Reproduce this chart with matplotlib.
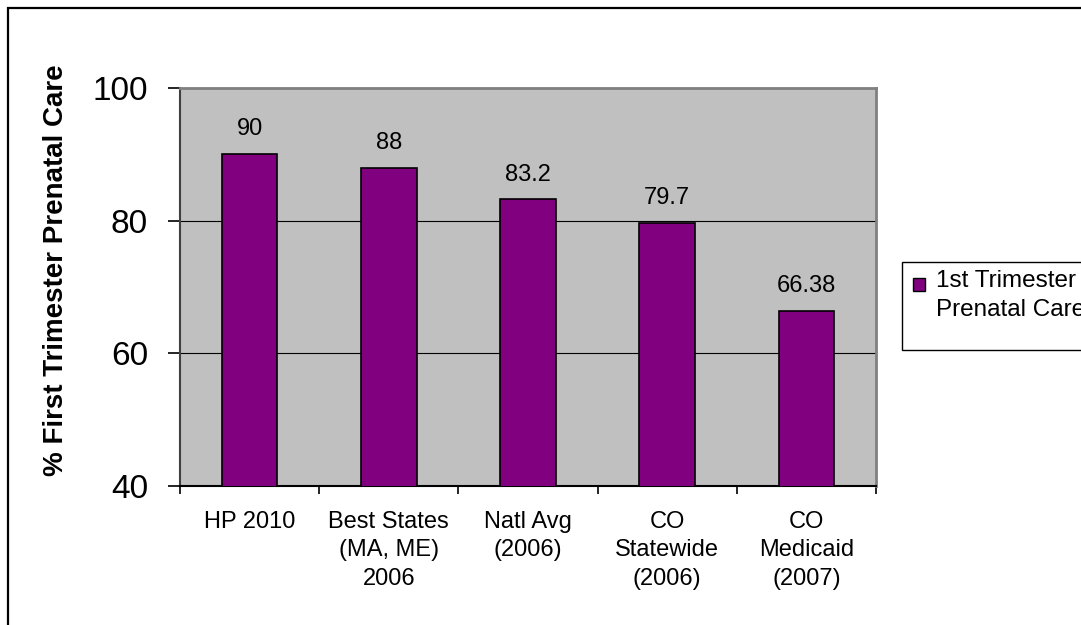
import matplotlib.pyplot as plt
from matplotlib.patches import Rectangle
import numpy as np

# --- data ---
categories = ['HP 2010', 'Best States\n(MA, ME)\n2006', 'Natl Avg\n(2006)',
              'CO\nStatewide\n(2006)', 'CO\nMedicaid\n(2007)']
values = [90, 88, 83.2, 79.7, 66.38]
value_labels = ['90', '88', '83.2', '79.7', '66.38']
series_name = '1st Trimester\nPrenatal Care'
y_ticks = [40, 60, 80, 100]

bar_color = '#800080'
plot_bg = '#C0C0C0'

plt.rcParams['font.family'] = ['Liberation Sans', 'DejaVu Sans']

fig = plt.figure(figsize=(10.81, 6.25), dpi=100)
W, H = 1081, 625

# axes placed in pixel terms
ax = fig.add_axes([180 / W, 1 - 486 / H, 696 / W, 398 / H])
ax.set_facecolor(plot_bg)

x = np.arange(len(categories))
bars = ax.bar(x, values, width=0.4, color=bar_color, edgecolor='black',
              linewidth=1.2, zorder=3)
ax.bar_label(bars, labels=value_labels, padding=10, fontsize=17)

ax.set_xlim(-0.5, len(categories) - 0.5)
ax.set_ylim(40, 100)
ax.set_yticks(y_ticks)
ax.yaxis.grid(True, color='black', linewidth=0.8, zorder=1)
ax.set_axisbelow(True)

# x labels at centres, tick marks at category boundaries
ax.set_xticks(x)
ax.set_xticklabels(categories, fontsize=17, linespacing=1.38)
ax.tick_params(axis='x', which='major', length=0, pad=18)
ax.set_xticks(np.arange(len(categories) + 1) - 0.5, minor=True)
ax.tick_params(axis='x', which='minor', length=6, width=1.2, color='black')
ax.tick_params(axis='y', length=9, width=1.2, labelsize=24, pad=14)

for side in ['top', 'right']:
    ax.spines[side].set_color('#808080')
    ax.spines[side].set_linewidth(2)
ax.spines['left'].set_color('#404040')
ax.spines['left'].set_linewidth(1.5)
ax.spines['bottom'].set_color('black')
ax.spines['bottom'].set_linewidth(1.5)

ax.set_ylabel('% First Trimester Prenatal Care', fontsize=20, fontweight='bold')
ax.yaxis.set_label_coords(-0.159, 0.543)

# legend box (Excel-style, swatch next to the first line)
fig.patches.append(Rectangle((902 / W, 1 - 350 / H), 300 / W, 88 / H,
                             transform=fig.transFigure, facecolor='white',
                             edgecolor='black', linewidth=1.0, clip_on=False))
fig.patches.append(Rectangle((913 / W, 1 - 291 / H), 12 / W, 13 / H,
                             transform=fig.transFigure, facecolor=bar_color,
                             edgecolor='black', linewidth=1.0))
fig.text(936 / W, 1 - 270 / H, series_name, fontsize=17.5, va='top', ha='left',
         linespacing=1.4)

# outer chart border
fig.patches.append(Rectangle((8 / W, -0.1), 1.2, 1.1 - 8 / H,
                             transform=fig.transFigure, fill=False,
                             edgecolor='black', linewidth=1.6))

fig.savefig('out.png', dpi=100)
